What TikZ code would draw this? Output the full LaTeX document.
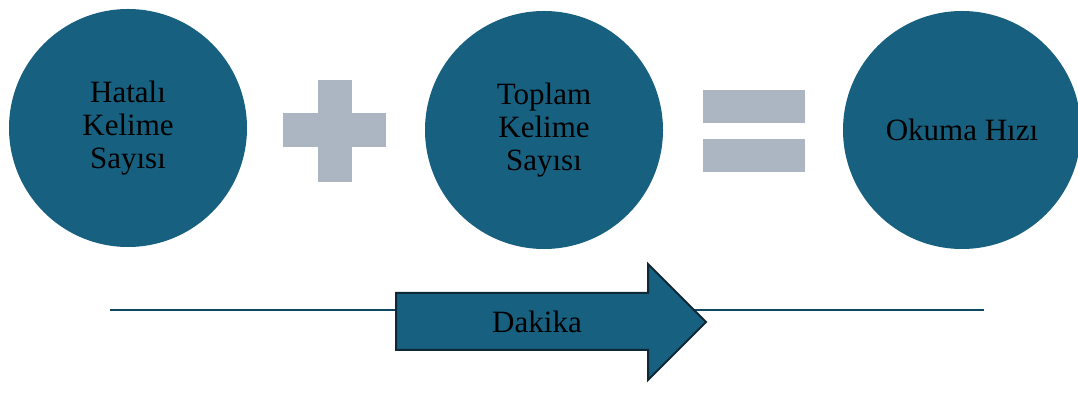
\documentclass[tikz,border=0pt]{standalone}
\usepackage{fontspec}
\setmainfont{Liberation Serif}

\tikzset{every picture/.style={line width=0.75pt}}
\tikzset{
  bubble/.style={circle, draw=none, fill={rgb, 255:red, 23; green, 96; blue, 128 }, minimum size=178.5pt, inner sep=0pt, align=center, font=\fontsize{23.25}{24.75}\selectfont},
  opbar/.style={fill={rgb, 255:red, 171; green, 182; blue, 194 }},
  timeline/.style={draw={rgb, 255:red, 16; green, 72; blue, 96 }, line width=1.5pt},
  bigarrow/.style={fill={rgb, 255:red, 23; green, 96; blue, 128 }, draw={rgb, 255:red, 14; green, 40; blue, 54 }, line width=1.5pt},
}

\begin{document}
\begin{tikzpicture}[x=0.75pt,y=0.75pt,yscale=-1,xscale=1]
\useasboundingbox (0,0) rectangle (1078,398);

%Shape: Circle [hatali]
\node [bubble] (hatali) at (128,128) {Hatalı\\Kelime\\Sayısı};
%Shape: Circle [toplam]
\node [bubble] (toplam) at (544,130) {Toplam\\Kelime\\Sayısı};
%Shape: Circle [hiz]
\node [bubble] (hiz) at (962,130) {Okuma Hızı};

%Shape: Plus
\fill [opbar] (283,113) rectangle (386,147) ;
\fill [opbar] (318,80) rectangle (352,182) ;
%Shape: Equals
\fill [opbar] (703,90) rectangle (805,123) ;
\fill [opbar] (703,139) rectangle (805,172) ;

%Straight Lines [timeline]
\coordinate (lineL) at (110,310) ;
\coordinate (lineR) at (984,310) ;
\draw [timeline] (lineL) -- (lineR) ;

%Shape: Right Arrow
\draw [bigarrow] (396,293) -- (648,293) -- (648,264) -- (706,322) -- (648,380) -- (648,350) -- (396,350) -- cycle ;
% Text Node
\node [anchor=base, inner sep=0.75pt, font=\fontsize{23.25}{24.75}\selectfont] (dakika) at (537,333) {Dakika};

\end{tikzpicture}
\end{document}
